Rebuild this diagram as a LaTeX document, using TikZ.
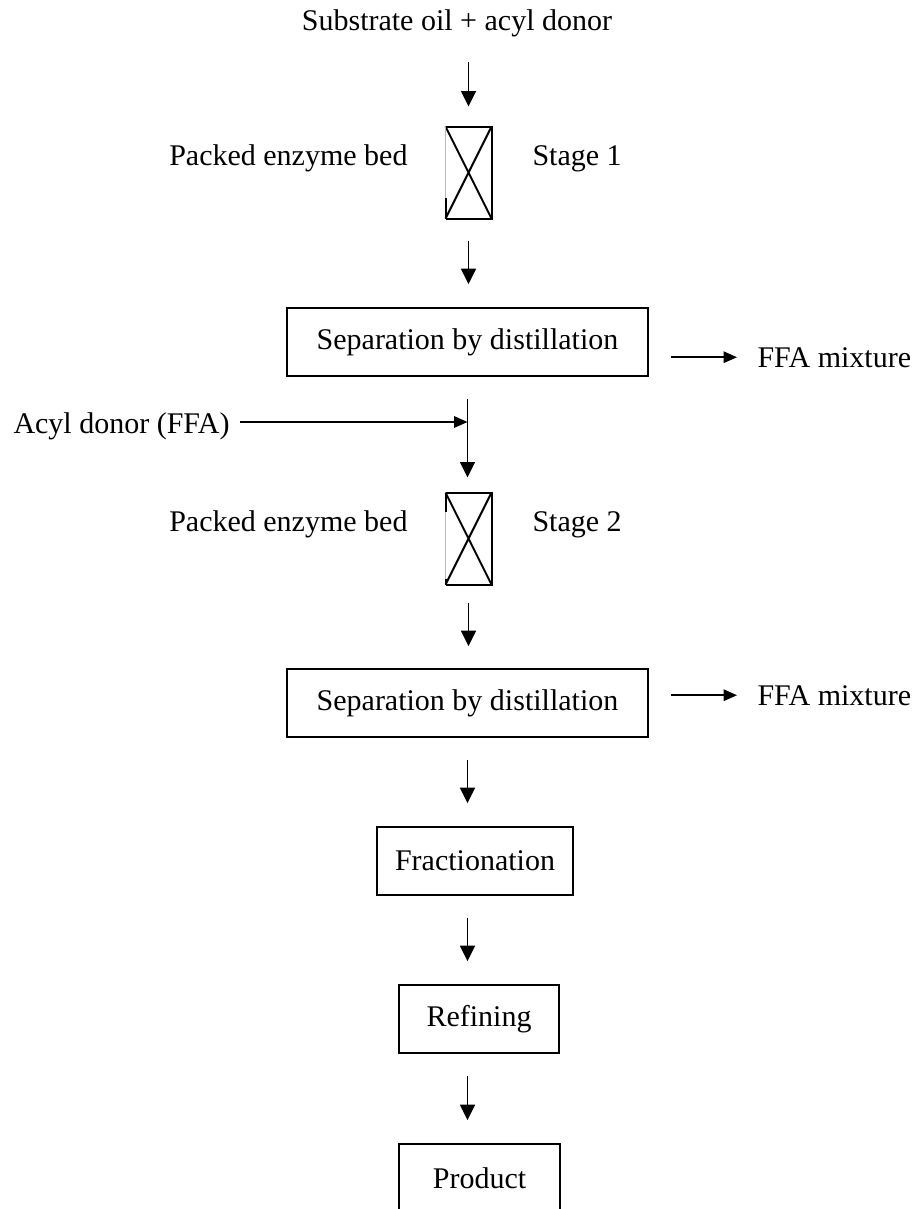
\documentclass[tikz,border=0pt]{standalone}
\usepackage{fontspec}
\setmainfont{Liberation Serif}
\usetikzlibrary{arrows.meta,calc,positioning}
\tikzset{
  proc box/.style={draw,line width=0.7pt,inner sep=0pt,minimum height=27.2pt,align=center},
  bed box/.style={inner sep=0pt,minimum width=18pt,minimum height=36.4pt},
  feed text/.style={inner sep=0pt},
  flow arrow/.style={line width=0.7pt,-{Triangle[length=6.2pt,width=6pt]}},
  side arrow/.style={line width=0.7pt,-{Triangle[length=5.4pt,width=4.6pt]}},
  bed line/.style={line width=0.8pt},
  bed gap/.style={gray!55,line width=0.3pt}
}

\begin{document}
\begin{tikzpicture}[x=0.4pt,y=-0.4pt,font=\fontsize{12}{14}\selectfont]
\useasboundingbox (0,0) rectangle (918,1209);
% feed
\node[feed text,anchor=base] (sub) at (457,30) {Substrate oil + acyl donor};
% stage 1
\node[bed box] (bed1) at (468.5,172.5) {};
\node[feed text,anchor=base east] (pack1) at (408,165) {Packed enzyme bed};
\node[feed text,anchor=base west] (stage1) at (532,165) {Stage 1};
\node[proc box,minimum width=144.4pt] (sep1) at (467.5,342) {Separation by distillation};
\node[feed text,anchor=base west] (ffa1) at (757,367) {FFA mixture};
% acyl donor feed
\node[feed text,anchor=base west] (acyl) at (13,433) {Acyl donor (FFA)};
\coordinate (join) at (467.5,422);
% stage 2
\node[bed box] (bed2) at (468.5,538.5) {};
\node[feed text,anchor=base east] (pack2) at (408,531) {Packed enzyme bed};
\node[feed text,anchor=base west] (stage2) at (532,531) {Stage 2};
\node[proc box,minimum width=144.4pt] (sep2) at (467.5,703) {Separation by distillation};
\node[feed text,anchor=base west] (ffa2) at (757,705) {FFA mixture};
% work-up
\node[proc box,minimum width=78.4pt] (frac) at (475,861) {Fractionation};
\node[proc box,minimum width=64pt] (refin) at (479,1019) {Refining};
\node[proc box,minimum width=64.4pt] (prod) at (479.5,1178) {Product};

% packed beds
\foreach \b in {bed1,bed2}{
  \draw[bed line] (\b.north west) -- (\b.north east) -- (\b.south east) -- (\b.south west);
  \draw[bed line] (\b.north west) -- (\b.south east) (\b.north east) -- (\b.south west);
  \draw[bed gap] (\b.north west) -- (\b.south west);
}
\draw[bed line] ([yshift=8.4pt]bed1.south west) -- (bed1.south west);
\draw[bed line] (bed2.north west) -- ([yshift=-7.6pt]bed2.north west);
\draw[bed line] ([yshift=2.4pt]bed2.south west) -- (bed2.south west);

% flows
\draw[flow arrow,shorten <=10.2pt,shorten >=8pt] (bed1 |- sub.south) -- (bed1.north);
\draw[flow arrow,shorten <=8.8pt,shorten >=9.2pt] (bed1.south) -- (bed1 |- sep1.north);
\draw[side arrow,shorten <=8.8pt,shorten >=8pt] (sep1.east |- ffa1.west) -- (ffa1.west);
\draw[side arrow,shorten <=4pt] (acyl.east |- join) -- (join);
\draw[flow arrow,shorten <=8.8pt,shorten >=6pt] (sep1.south -| join) -- (bed2.north -| join);
\draw[flow arrow,shorten <=7.2pt,shorten >=8.8pt] (bed2.south) -- (bed2 |- sep2.north);
\draw[side arrow,shorten <=8.8pt,shorten >=8pt] (sep2.east |- ffa2.west) -- (ffa2.west);
\draw[flow arrow,shorten <=8.8pt,shorten >=9.2pt] (sep2.south) -- (sep2.south |- frac.north);
\draw[flow arrow,shorten <=8.8pt,shorten >=9.2pt] (frac.south -| sep2.south) -- (sep2.south |- refin.north);
\draw[flow arrow,shorten <=8.8pt,shorten >=9.2pt] (refin.south -| sep2.south) -- (sep2.south |- prod.north);
\end{tikzpicture}
\end{document}
